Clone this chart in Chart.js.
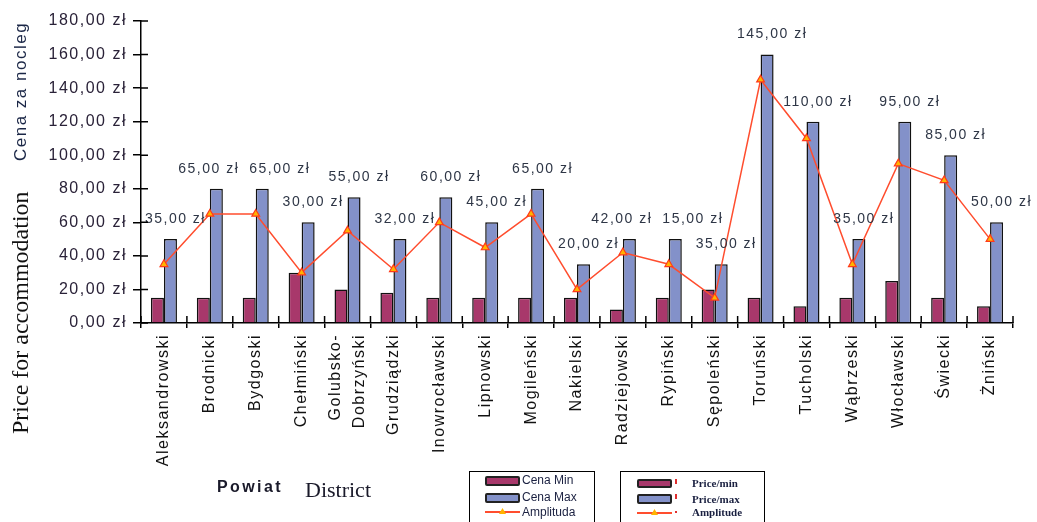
<!DOCTYPE html>
<html><head><meta charset="utf-8">
<script src="https://cdn.jsdelivr.net/npm/chart.js@4.4.0/dist/chart.umd.min.js"></script>
<style>
html,body{margin:0;padding:0;background:#fff;}
#wrap{position:relative;width:1037px;height:522px;overflow:hidden;background:#fff;}
canvas{position:absolute;left:0;top:0;}
.vt{position:absolute;writing-mode:vertical-rl;transform:rotate(180deg);text-align:center;white-space:nowrap;}
.abs{position:absolute;white-space:nowrap;}
.box{position:absolute;border:1.5px solid #000;box-sizing:border-box;}
.sw{position:absolute;box-sizing:border-box;border:2px solid #222;border-radius:2px;}
.ln{position:absolute;height:2px;background:#ff4d2e;}
.tri{position:absolute;width:7px;height:6px;background:#ffb400;clip-path:polygon(50% 0,100% 100%,0 100%);}
.lt{position:absolute;white-space:nowrap;font-family:"Liberation Sans",Arial,sans-serif;font-size:12px;line-height:12px;color:#1a2040;}
.lt2{position:absolute;white-space:nowrap;font-family:"Liberation Serif","Times New Roman",serif;font-weight:bold;font-size:11px;line-height:11px;color:#1a2040;}
.bang{position:absolute;width:1.5px;height:5px;background:#e03030;}
</style></head><body>
<div id="wrap">
<canvas id="c" width="1037" height="522" style="width:1037px;height:522px"></canvas>

<div class="vt" style="left:11px;top:20px;height:142px;width:20px;font-family:'Liberation Sans',Arial,sans-serif;font-size:17px;line-height:20px;letter-spacing:1.5px;color:#1a2646">Cena za nocleg</div>
<div class="vt" style="left:6px;top:183px;height:259px;width:28px;font-family:'Liberation Serif','Times New Roman',serif;font-size:24px;line-height:28px;color:#111">Price for accommodation</div>

<div class="abs" style="left:217px;top:479px;font-family:'Liberation Sans',Arial,sans-serif;font-weight:bold;font-size:16px;line-height:16px;letter-spacing:2.4px;color:#1a1a2a">Powiat</div>
<div class="abs" style="left:305px;top:479px;font-family:'Liberation Serif','Times New Roman',serif;font-size:22px;line-height:22px;color:#1a1a2a">District</div>

<div class="box" style="left:469px;top:471px;width:126px;height:70px"></div>
<div class="sw" style="left:485px;top:476px;width:35px;height:10px;background:#a8386b"></div>
<div class="lt" style="left:522px;top:474px">Cena Min</div>
<div class="sw" style="left:485px;top:493px;width:35px;height:10px;background:#8391c9"></div>
<div class="lt" style="left:522px;top:491px">Cena Max</div>
<div class="ln" style="left:485px;top:511px;width:35px"></div>
<div class="tri" style="left:499px;top:508px"></div>
<div class="lt" style="left:522px;top:506px">Amplituda</div>

<div class="box" style="left:620px;top:471px;width:145px;height:70px"></div>
<div class="sw" style="left:637px;top:479px;width:35px;height:9px;background:#a8386b"></div>
<div class="bang" style="left:675px;top:479px"></div>
<div class="lt2" style="left:692px;top:478px">Price/min</div>
<div class="sw" style="left:637px;top:494px;width:35px;height:10px;background:#8391c9"></div>
<div class="bang" style="left:675px;top:494px"></div>
<div class="lt2" style="left:692px;top:494px">Price/max</div>
<div class="ln" style="left:637px;top:512px;width:35px"></div>
<div class="tri" style="left:651px;top:509px"></div>
<div class="bang" style="left:675px;top:511px;height:2px"></div>
<div class="lt2" style="left:692px;top:507px">Amplitude</div>
</div>

<script>
const districts = ['Aleksandrowski','Brodnicki','Bydgoski','Chełmiński',['Golubsko-','Dobrzyński'],'Grudziądzki','Inowrocławski','Lipnowski','Mogileński','Nakielski','Radziejowski','Rypiński','Sępoleński','Toruński','Tucholski','Wąbrzeski','Włocławski','Świecki','Żniński'];
const priceMin = [15,15,15,30,20,18,15,15,15,15,8,15,20,15,10,15,25,15,10];
const priceMax = [50,80,80,60,75,50,75,60,80,35,50,50,35,160,120,50,120,100,60];
const amplitude = [35,65,65,30,55,32,60,45,65,20,42,35,15,145,110,35,95,85,50];
const amplitudeLabelValues = [35,65,65,30,55,32,60,45,65,20,42,15,35,145,110,35,95,85,50];
const yTicks = [0,20,40,60,80,100,120,140,160,180];

const zl = v => v.toFixed(2).replace('.', ',') + ' zł';
const SANS = '"Liberation Sans", Arial, sans-serif';
Chart.defaults.font.family = SANS;

const decor = {
  id: 'decor',
  beforeUpdate(chart){ chart.ctx.letterSpacing = '1.5px'; },
  beforeDraw(chart){ chart.ctx.letterSpacing = '1.5px'; },
  afterDatasetsDraw(chart){
    const ctx = chart.ctx;
    const meta = chart.getDatasetMeta(1);
    ctx.save();
    ctx.letterSpacing = '1.5px';
    ctx.font = '14px ' + SANS;
    ctx.fillStyle = '#2e3646';
    ctx.textAlign = 'center';
    ctx.textBaseline = 'middle';
    const items = meta.data.map((el, i) => {
      const text = zl(amplitudeLabelValues[i]);
      return { text, w: ctx.measureText(text).width, cx: el.x + 5, cy: el.y - 20 };
    });
    for (let pass = 0; pass < 6; pass++) {
      for (let i = 0; i < items.length - 1; i++) {
        const a = items[i], b = items[i + 1];
        if (Math.abs(a.cy - b.cy) < 16) {
          const need = (a.cx + a.w / 2 + 10) - (b.cx - b.w / 2);
          if (need > 0) { a.cx -= need / 2; b.cx += need / 2; }
        }
      }
    }
    items.forEach(it => ctx.fillText(it.text, it.cx, it.cy));
    ctx.restore();
  },
  afterDraw(chart){
    const {ctx, chartArea: a, scales: {x, y}} = chart;
    ctx.save();
    ctx.strokeStyle = '#000';
    ctx.lineWidth = 1.5;
    ctx.beginPath();
    y.ticks.forEach(t => {
      const py = y.getPixelForValue(t.value);
      ctx.moveTo(a.left, py); ctx.lineTo(a.left + 7, py);
    });
    const n = districts.length;
    for (let i = 0; i <= n; i++) {
      const px = i === 0 ? x.left : (i === n ? x.right : (x.getPixelForValue(i - 1) + x.getPixelForValue(i)) / 2);
      ctx.moveTo(px, a.bottom); ctx.lineTo(px, a.bottom - 7);
    }
    ctx.stroke();
    // category labels, rotated, multi-line centred on the category
    ctx.letterSpacing = '1.5px';
    ctx.font = '16px ' + SANS;
    ctx.fillStyle = '#111';
    ctx.textAlign = 'right';
    ctx.textBaseline = 'middle';
    const lh = 24;
    districts.forEach((lab, i) => {
      const lines = Array.isArray(lab) ? lab : [lab];
      const px = x.getPixelForValue(i);
      lines.forEach((ln, j) => {
        const cx = px + (j - (lines.length - 1) / 2) * lh;
        ctx.save();
        ctx.translate(cx, a.bottom + 11);
        ctx.rotate(-Math.PI / 2);
        ctx.fillText(ln, 0, 0);
        ctx.restore();
      });
    });
    ctx.restore();
  }
};

new Chart(document.getElementById('c'), {
  type: 'bar',
  data: {
    labels: districts,
    datasets: [
      { label: 'Cena Min', data: priceMin, backgroundColor: '#a8386b', borderColor: '#111', borderWidth: 1.5, categoryPercentage: 0.567, barPercentage: 1.0, order: 1 },
      { label: 'Cena Max', data: priceMax, backgroundColor: '#8391c9', borderColor: '#111', borderWidth: 1.5, categoryPercentage: 0.567, barPercentage: 1.0, order: 1 },
      { type: 'line', label: 'Amplituda', data: amplitude, borderColor: '#ff4d2e', borderWidth: 1.5, tension: 0,
        pointStyle: 'triangle', pointRadius: 4.5, pointBackgroundColor: '#ffb400', pointBorderColor: '#ff3a1a', pointBorderWidth: 1.2, order: 0 }
    ]
  },
  options: {
    responsive: false,
    animation: false,
    events: [],
    layout: { padding: { top: 21, right: 24, left: 0, bottom: 0 } },
    plugins: { legend: { display: false }, tooltip: { enabled: false } },
    scales: {
      x: {
        offset: true,
        grid: { display: true, drawOnChartArea: false, drawTicks: true, tickLength: 5, offset: true, color: '#000', lineWidth: 1.5 },
        border: { display: true, color: '#000', width: 1.5 },
        ticks: { display: false, autoSkip: false },
        afterFit(s){ s.height = 199; }
      },
      y: {
        min: 0, max: 180,
        afterBuildTicks(s){ s.ticks = yTicks.map(v => ({ value: v })); },
        grid: { display: true, drawOnChartArea: false, drawTicks: true, tickLength: 8, color: '#000', lineWidth: 1.5 },
        border: { display: true, color: '#000', width: 1.5 },
        ticks: { padding: 6, color: '#2a2238', font: { size: 16 }, callback: v => zl(v) },
        afterFit(s){ s.width = 141; }
      }
    }
  },
  plugins: [decor]
});
</script>
</body></html>
